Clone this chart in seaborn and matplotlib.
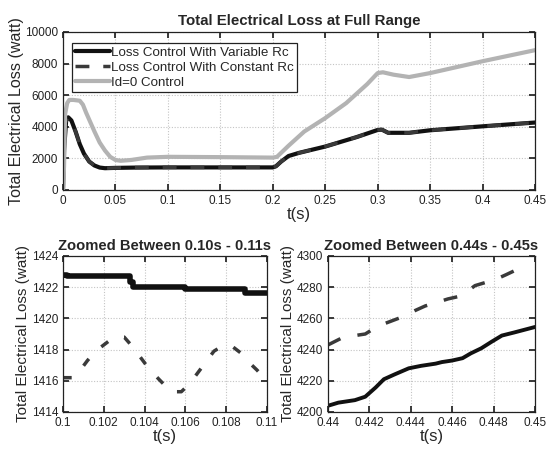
import matplotlib
matplotlib.use("Agg")
import matplotlib.pyplot as plt
import seaborn as sns
import numpy as np
import pandas as pd

# ---------------- data ----------------
# Full range
t_var = [0, 0.001, 0.003, 0.005, 0.008, 0.012, 0.016, 0.020, 0.025, 0.030, 0.035, 0.040,
         0.050, 0.070, 0.100, 0.150, 0.200, 0.203, 0.208, 0.215, 0.225, 0.250, 0.280,
         0.300, 0.304, 0.310, 0.330, 0.350, 0.400, 0.450]
loss_var = [0, 2500, 4400, 4600, 4400, 3700, 2900, 2300, 1800, 1550, 1420, 1380,
            1400, 1420, 1430, 1430, 1430, 1500, 1800, 2150, 2350, 2750, 3350,
            3800, 3820, 3620, 3620, 3780, 4030, 4270]

t_const = [0, 0.0004, 0.0010, 0.0016, 0.0025, 0.005, 0.008, 0.012, 0.016, 0.020, 0.025,
           0.030, 0.035, 0.040, 0.050, 0.070, 0.100, 0.150, 0.200, 0.203, 0.208, 0.215,
           0.225, 0.250, 0.280, 0.300, 0.304, 0.310, 0.330, 0.350, 0.400, 0.450]
loss_const = [0, 3000, 5100, 4900, 4300, 4550, 4400, 3700, 2900, 2300, 1800,
              1550, 1420, 1380, 1400, 1420, 1430, 1430, 1430, 1500, 1800, 2150,
              2350, 2750, 3350, 3800, 3820, 3620, 3620, 3780, 4030, 4270]

t_id0 = [0, 0.001, 0.002, 0.004, 0.006, 0.010, 0.016, 0.019, 0.022, 0.026, 0.030, 0.035,
         0.040, 0.045, 0.050, 0.055, 0.065, 0.080, 0.100, 0.150, 0.200, 0.204, 0.215,
         0.230, 0.250, 0.270, 0.290, 0.300, 0.305, 0.315, 0.330, 0.350, 0.400, 0.450]
loss_id0 = [0, 1500, 4800, 5500, 5700, 5700, 5650, 5400, 4900, 4300, 3700, 3000,
            2500, 2100, 1900, 1850, 1900, 2050, 2100, 2080, 2050, 2100, 2800,
            3700, 4550, 5500, 6700, 7400, 7450, 7300, 7150, 7400, 8150, 8850]

# Zoom 0.10 - 0.11 s
tz1_var = [0.1, 0.1002, 0.1033, 0.10345, 0.1060, 0.1089, 0.11]
lz1_var = [1422.8, 1422.7, 1422.35, 1422.0, 1421.9, 1421.65, 1421.65]

tz1_const = [0.1, 0.1005, 0.1008, 0.1012, 0.1016, 0.1020, 0.1025, 0.1030, 0.1034,
             0.1038, 0.1042, 0.1047, 0.1053, 0.1058, 0.1062, 0.1066, 0.1070, 0.1074,
             0.1079, 0.1083, 0.1087, 0.1091, 0.1095, 0.11]
lz1_const = [1416.2, 1416.2, 1416.6, 1417.3, 1417.9, 1418.3, 1418.8, 1418.8, 1418.2,
             1417.5, 1416.8, 1416.1, 1415.3, 1415.3, 1415.8, 1416.5, 1417.2, 1417.9,
             1418.3, 1418.2, 1417.8, 1417.2, 1416.7, 1416.0]

# Zoom 0.44 - 0.45 s
tz2_var = [0.44, 0.4405, 0.4413, 0.4418, 0.4423, 0.4427, 0.4432, 0.4439, 0.4445, 0.4452,
           0.4455, 0.4460, 0.4465, 0.4469, 0.4474, 0.4479, 0.4484, 0.4490, 0.45]
lz2_var = [4204, 4206, 4207.6, 4209.8, 4215.7, 4221, 4224, 4228, 4229.6, 4231,
           4232, 4233, 4234.5, 4237.6, 4240.8, 4245, 4249, 4251, 4254.5]

tz2_const = [0.44, 0.4406, 0.4413, 0.4418, 0.4424, 0.4430, 0.4436, 0.4442, 0.4447, 0.4452,
             0.4458, 0.4463, 0.4468, 0.4471, 0.4476, 0.4481, 0.4486, 0.4490, 0.4495]
lz2_const = [4243, 4247, 4249, 4250, 4255, 4258, 4261, 4265, 4268, 4270,
             4272.5, 4274, 4278, 4281, 4283, 4285, 4288, 4290.5, 4292.6]

labels = ["Loss Control With Variable Rc", "Loss Control With Constant Rc", "Id=0 Control"]
c_var, c_const, c_id0 = "#111111", "#3a3a3a", "#b3b3b3"

# ---------------- style ----------------
sns.set_theme(style="ticks")
plt.rcParams['font.family'] = ['Liberation Sans', 'DejaVu Sans']
plt.rcParams.update({
    "xtick.direction": "in", "ytick.direction": "in",
    "xtick.top": True, "ytick.right": True,
    "xtick.major.size": 4, "ytick.major.size": 4,
    "xtick.labelsize": 8.5, "ytick.labelsize": 8.5,
    "axes.edgecolor": "#222222", "axes.linewidth": 0.9,
    "xtick.color": "#222222", "ytick.color": "#222222",
})

fig = plt.figure(figsize=(5.48, 4.5), dpi=100)
ax0 = fig.add_axes([63/548, 1-190/450, (535-63)/548, (190-32)/450])
ax1 = fig.add_axes([63/548, 1-412/450, (267-63)/548, (412-256)/450])
ax2 = fig.add_axes([328/548, 1-412/450, (535-328)/548, (412-256)/450])

def grid(ax):
    ax.grid(True, linestyle=(0, (1, 1.5)), color="#c4c4c4", linewidth=0.8)
    ax.set_axisbelow(True)

# --- top ---
sns.lineplot(x=t_var, y=loss_var, ax=ax0, color=c_var, lw=3, label=labels[0], sort=False)
sns.lineplot(x=t_const, y=loss_const, ax=ax0, color=c_const, lw=2.5, label=labels[1],
             sort=False, dashes=False)
ax0.lines[-1].set_dashes((4, 4))
sns.lineplot(x=t_id0, y=loss_id0, ax=ax0, color=c_id0, lw=3, label=labels[2], sort=False)
ax0.set_xlim(0, 0.45)
ax0.set_ylim(0, 10000)
ax0.set_xticks([0, 0.05, 0.1, 0.15, 0.2, 0.25, 0.3, 0.35, 0.4, 0.45])
ax0.set_xticklabels(["0", "0.05", "0.1", "0.15", "0.2", "0.25", "0.3", "0.35", "0.4", "0.45"])
ax0.set_yticks([0, 2000, 4000, 6000, 8000, 10000])
grid(ax0)
ax0.set_title("Total Electrical Loss at Full Range", fontsize=10.8, fontweight="bold", pad=5)
ax0.set_xlabel("t(s)", fontsize=12, labelpad=0)
ax0.set_ylabel("Total Electrical Loss (watt)", fontsize=11.6, labelpad=1)
leg = ax0.legend(loc="upper left", bbox_to_anchor=(0.019, 0.93), fontsize=9.6,
                 frameon=True, fancybox=False, framealpha=1, edgecolor="#222222",
                 handlelength=2.6, handletextpad=0.05, borderpad=0.25, labelspacing=0.2,
                 borderaxespad=0)
leg.get_frame().set_linewidth(0.9)

# --- bottom left ---
sns.lineplot(x=tz1_var, y=lz1_var, ax=ax1, color=c_var, lw=4, drawstyle="steps-post",
             sort=False)
sns.lineplot(x=tz1_const, y=lz1_const, ax=ax1, color=c_const, lw=2.5, sort=False)
ax1.lines[-1].set_dashes((2.5, 5))
ax1.set_xlim(0.1, 0.11)
ax1.set_ylim(1414, 1424)
ax1.set_xticks([0.1, 0.102, 0.104, 0.106, 0.108, 0.11])
ax1.set_xticklabels(["0.1", "0.102", "0.104", "0.106", "0.108", "0.11"])
ax1.set_yticks([1414, 1416, 1418, 1420, 1422, 1424])
grid(ax1)
ax1.set_title("Zoomed Between 0.10s - 0.11s", fontsize=10.6, fontweight="bold", pad=4)
ax1.set_xlabel("t(s)", fontsize=12, labelpad=0)
ax1.set_ylabel("Total Electrical Loss (watt)", fontsize=11, labelpad=1)

# --- bottom right ---
sns.lineplot(x=tz2_var, y=lz2_var, ax=ax2, color=c_var, lw=2.8, sort=False)
sns.lineplot(x=tz2_const, y=lz2_const, ax=ax2, color=c_const, lw=2.5, sort=False)
ax2.lines[-1].set_dashes((4, 5))
ax2.set_xlim(0.44, 0.45)
ax2.set_ylim(4200, 4300)
ax2.set_xticks([0.44, 0.442, 0.444, 0.446, 0.448, 0.45])
ax2.set_xticklabels(["0.44", "0.442", "0.444", "0.446", "0.448", "0.45"])
ax2.set_yticks([4200, 4220, 4240, 4260, 4280, 4300])
grid(ax2)
ax2.set_title("Zoomed Between 0.44s - 0.45s", fontsize=10.6, fontweight="bold", pad=4)
ax2.set_xlabel("t(s)", fontsize=12, labelpad=0)
ax2.set_ylabel("Total Electrical Loss (watt)", fontsize=11, labelpad=1)

fig.savefig("out.png", dpi=100)
